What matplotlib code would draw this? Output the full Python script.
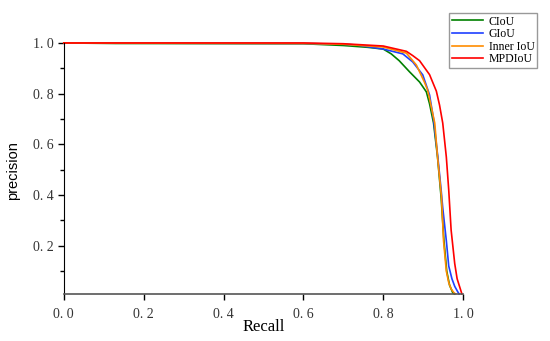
import matplotlib
matplotlib.use('Agg')
import matplotlib.pyplot as plt
from matplotlib.ticker import MultipleLocator

# PR curves
ciou_r = [0.0, 0.13, 0.60, 0.70, 0.76, 0.80, 0.82, 0.84, 0.866, 0.891, 0.908, 0.916, 0.926, 0.936,
          0.945, 0.952, 0.959, 0.966, 0.974, 0.978]
ciou_p = [1.0, 0.998, 0.997, 0.99, 0.983, 0.976, 0.957, 0.93, 0.886, 0.846, 0.807, 0.76, 0.684, 0.55,
          0.39, 0.22, 0.10, 0.045, 0.015, 0.01]

giou_r = [0.0, 0.60, 0.70, 0.733, 0.80, 0.849, 0.874, 0.899, 0.916, 0.926, 0.936, 0.945, 0.949,
          0.958, 0.964, 0.972, 0.979, 0.986, 0.99]
giou_p = [1.0, 0.998, 0.995, 0.992, 0.976, 0.957, 0.925, 0.874, 0.795, 0.70, 0.56, 0.42, 0.35,
          0.22, 0.12, 0.07, 0.04, 0.02, 0.01]

inner_r = [0.0, 0.60, 0.70, 0.80, 0.858, 0.883, 0.903, 0.911, 0.916, 0.929, 0.936, 0.946, 0.951,
           0.958, 0.964, 0.970, 0.977, 0.981]
inner_p = [1.0, 0.998, 0.995, 0.984, 0.96, 0.913, 0.846, 0.815, 0.78, 0.684, 0.55, 0.39, 0.22,
           0.10, 0.055, 0.03, 0.015, 0.01]

mpd_r = [0.0, 0.60, 0.70, 0.80, 0.858, 0.874, 0.891, 0.916, 0.933, 0.941, 0.949, 0.958, 0.964,
         0.970, 0.979, 0.985, 0.991, 0.997]
mpd_p = [1.0, 1.0, 0.997, 0.988, 0.967, 0.95, 0.93, 0.875, 0.81, 0.755, 0.684, 0.55, 0.42,
         0.262, 0.13, 0.07, 0.04, 0.01]

x_ticks = [0.0, 0.2, 0.4, 0.6, 0.8, 1.0]
y_ticks = [0.2, 0.4, 0.6, 0.8, 1.0]

serif = ['Liberation Serif', 'DejaVu Serif']

fig = plt.figure(figsize=(5.5, 3.41), dpi=100)
ax = fig.add_axes([0.116, 0.138, 0.726, 0.736])

ax.plot(ciou_r, ciou_p, color='#008000', lw=1.2, label='CIoU', clip_on=False)
ax.plot(giou_r, giou_p, color='#1f3fff', lw=1.2, label='GIoU', clip_on=False)
ax.plot(inner_r, inner_p, color='#ff8c00', lw=1.2, label='Inner IoU', clip_on=False)
ax.plot(mpd_r, mpd_p, color='#ff0000', lw=1.2, label='MPDIoU', clip_on=False)

ax.set_xlim(0.0, 1.0)
ax.set_ylim(0.01, 1.0)
ax.spines['top'].set_visible(False)
ax.spines['right'].set_visible(False)
ax.spines['left'].set_color('black')
ax.spines['bottom'].set_color('#555555')
ax.spines['bottom'].set_linewidth(1.2)

ax.set_xticks(x_ticks)
ax.set_xticklabels([f'{v:.1f}'.replace('.', '. ') for v in x_ticks], family=serif, fontsize=10)
ax.set_yticks(y_ticks)
ax.set_yticklabels([f'{v:.1f}'.replace('.', '. ') for v in y_ticks], family=serif, fontsize=10)
ax.yaxis.set_minor_locator(MultipleLocator(0.1))
ax.tick_params(axis='both', which='major', direction='out', length=4, width=1, colors='black',
               labelcolor='#333333')
ax.tick_params(axis='y', which='minor', direction='out', length=3, width=1)
ax.tick_params(axis='x', which='major', pad=6)

ax.set_xlabel('Recall', family=serif, fontsize=12)
ax.xaxis.set_label_coords(0.5, -0.10)
ax.set_ylabel('precision', family=['Liberation Sans', 'DejaVu Sans'], fontsize=10.5)
ax.yaxis.set_label_coords(-0.11, 0.49)

leg = ax.legend(loc='upper right', bbox_to_anchor=(0.977, 0.963), bbox_transform=fig.transFigure,
                prop={'family': serif, 'size': 8.5}, fancybox=False, framealpha=1,
                edgecolor='#999999', borderpad=0.25, labelspacing=0.05, handlelength=2.6,
                handletextpad=0.5, borderaxespad=0)
leg.get_frame().set_linewidth(1.0)

fig.savefig('out.png', dpi=100)
